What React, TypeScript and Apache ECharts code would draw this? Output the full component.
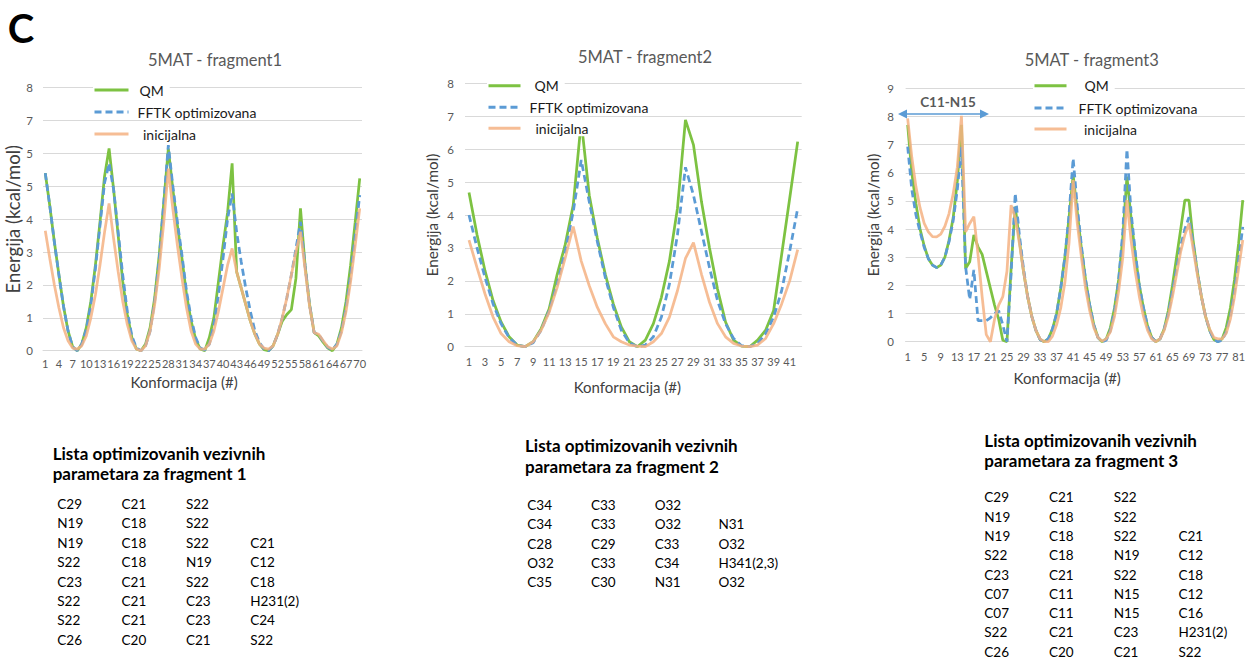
import React, { useEffect, useRef } from "react";
import * as echarts from "echarts";

const FONT = "Lato, 'Noto Sans', sans-serif";
const C_QM = "#7dc242";
const C_FFTK = "#5b9bd5";
const C_INIT = "#f4b183";

const seriesNames = ["QM", "FFTK optimizovana", "inicijalna"];
const chartTitles = ["5MAT - fragment1", "5MAT - fragment2", "5MAT - fragment3"];
const xAxisTitle = "Konformacija (#)";
const yAxisTitle = "Energija (kcal/mol)";
const panelLetter = "C";
const bondAnnotation = "C11-N15";

// fragment 1 (70 conformations)
const f1Categories = Array.from({ length: 70 }, (_, i) => String(i + 1));
const f1YTickLabels = ["0", "1", "2", "3", "4", "5", "5", "7", "8"];
const f1Qm = [
  5.4, 4.4, 3.3, 2.3, 1.35, 0.6, 0.12, 0.0, 0.2, 0.7,
  1.5, 2.6, 3.9, 5.3, 6.15, 4.9, 3.5, 2.1, 1.1, 0.4,
  0.05, 0.0, 0.2, 0.7, 1.6, 2.9, 4.5, 6.15, 4.9, 3.8,
  2.8, 1.7, 0.9, 0.35, 0.05, 0.0, 0.4, 1.0, 2.1, 3.2,
  4.2, 5.7, 2.4, 1.9, 1.4, 0.9, 0.5, 0.2, 0.03, 0.0,
  0.15, 0.5, 0.9, 1.1, 1.25, 2.2, 4.33, 2.6, 1.4, 0.55,
  0.45, 0.25, 0.08, 0.0, 0.2, 0.7, 1.5, 2.6, 3.9, 5.24,
];
const f1Fftk = [
  5.4, 4.4, 3.3, 2.3, 1.35, 0.6, 0.12, 0.0, 0.2, 0.65,
  1.4, 2.5, 3.8, 5.1, 5.7, 4.9, 3.6, 2.3, 1.2, 0.45,
  0.08, 0.0, 0.15, 0.6, 1.5, 2.8, 4.5, 6.25, 5.0, 3.9,
  2.9, 1.8, 1.0, 0.4, 0.08, 0.02, 0.2, 0.8, 1.7, 2.8,
  4.0, 4.78, 3.6, 2.7, 1.9, 1.2, 0.6, 0.25, 0.05, 0.0,
  0.15, 0.5, 1.0, 1.6, 2.3, 3.1, 3.92, 2.6, 1.4, 0.55,
  0.5, 0.28, 0.1, 0.02, 0.2, 0.6, 1.3, 2.3, 3.5, 4.73,
];
const f1Init = [
  3.65, 2.8, 2.0, 1.3, 0.7, 0.3, 0.08, 0.05, 0.15, 0.45,
  1.0, 1.7, 2.6, 3.6, 4.48, 3.4, 2.4, 1.5, 0.8, 0.3,
  0.05, 0.0, 0.15, 0.6, 1.4, 2.5, 3.9, 5.54, 4.3, 3.2,
  2.2, 1.3, 0.6, 0.2, 0.05, 0.05, 0.2, 0.6, 1.2, 1.9,
  2.6, 3.11, 2.4, 1.9, 1.4, 0.9, 0.5, 0.2, 0.08, 0.05,
  0.15, 0.5, 1.0, 1.6, 2.3, 3.0, 3.62, 2.5, 1.35, 0.55,
  0.5, 0.3, 0.12, 0.05, 0.15, 0.55, 1.2, 2.1, 3.2, 4.33,
];

// fragment 2 (42 conformations)
const f2Categories = Array.from({ length: 42 }, (_, i) => String(i + 1));
const f2Qm = [
  4.68, 3.4, 2.3, 1.4, 0.75, 0.3, 0.05, 0.0, 0.15, 0.55,
  1.15, 2.2, 3.1, 4.3, 6.85, 4.6, 3.3, 2.2, 1.3, 0.6,
  0.15, 0.0, 0.2, 0.7, 1.5, 2.6, 4.2, 6.89, 6.13, 4.4,
  3.0, 1.75, 0.75, 0.2, 0.02, 0.0, 0.2, 0.5, 1.1, 2.8,
  4.5, 6.23,
];
const f2Fftk = [
  4.0, 3.0, 2.1, 1.3, 0.7, 0.28, 0.05, 0.0, 0.12, 0.5,
  1.1, 1.9, 2.9, 4.1, 5.67, 4.4, 3.2, 2.1, 1.2, 0.5,
  0.12, 0.0, 0.05, 0.3, 0.9, 1.9, 3.4, 5.45, 4.6, 3.5,
  2.4, 1.4, 0.7, 0.25, 0.03, 0.0, 0.1, 0.4, 0.9, 1.7,
  2.9, 4.2,
];
const f2Init = [
  3.24, 2.4, 1.6, 0.9, 0.4, 0.15, 0.03, 0.0, 0.15, 0.5,
  1.05, 1.8, 2.7, 3.65, 2.6, 1.85, 1.2, 0.7, 0.3, 0.15,
  0.05, 0.02, 0.0, 0.15, 0.4, 0.9, 1.7, 2.68, 3.16, 2.2,
  1.35, 0.7, 0.3, 0.1, 0.02, 0.0, 0.05, 0.25, 0.7, 1.3,
  2.0, 2.95,
];

// fragment 3 (82 conformations)
const f3Categories = Array.from({ length: 82 }, (_, i) => String(i + 1));
const f3Qm = [
  7.7, 6.0, 4.9, 4.0, 3.4, 2.95, 2.72, 2.63, 2.72, 3.0,
  3.6, 4.4, 5.7, 7.7, 2.6, 2.84, 3.79, 3.37, 3.1, 2.5,
  1.9, 1.3, 0.8, 0.05, 0.0, 2.6, 4.8, 3.6, 2.5, 1.6,
  0.9, 0.4, 0.08, 0.0, 0.1, 0.45, 1.0, 1.9, 3.0, 4.4,
  5.92, 4.6, 3.3, 2.2, 1.3, 0.6, 0.15, 0.0, 0.1, 0.5,
  1.2, 2.2, 3.7, 5.86, 4.4, 3.1, 2.0, 1.2, 0.55, 0.15,
  0.0, 0.1, 0.45, 1.1, 2.0, 3.0, 4.0, 5.03, 5.03, 3.6,
  2.5, 1.6, 0.9, 0.4, 0.08, 0.0, 0.1, 0.5, 1.2, 2.2,
  3.5, 5.03,
];
const f3Fftk = [
  6.93, 5.4, 4.5, 3.9, 3.35, 2.95, 2.72, 2.63, 2.72, 3.0,
  3.55, 4.3, 5.4, 6.93, 2.66, 1.5, 2.55, 0.75, 0.75, 0.75,
  0.85, 1.0, 1.1, 0.6, 0.0, 2.4, 5.27, 3.8, 2.6, 1.6,
  0.9, 0.4, 0.08, 0.0, 0.1, 0.45, 1.0, 1.9, 3.0, 4.5,
  6.51, 4.8, 3.4, 2.2, 1.3, 0.6, 0.15, 0.0, 0.05, 0.4,
  1.1, 2.2, 3.9, 6.83, 4.6, 3.2, 2.0, 1.2, 0.55, 0.15,
  0.0, 0.1, 0.45, 1.0, 1.8, 2.6, 3.4, 4.0, 4.42, 3.5,
  2.5, 1.6, 0.9, 0.4, 0.08, 0.0, 0.05, 0.35, 0.9, 1.8,
  2.9, 4.08,
];
const f3Init = [
  7.93, 6.55, 5.5, 4.75, 4.2, 3.9, 3.73, 3.72, 3.82, 4.1,
  4.55, 5.25, 6.2, 8.02, 3.9, 4.2, 4.44, 3.1, 1.6, 0.25,
  0.0, 0.8, 1.3, 1.6, 2.5, 4.85, 4.4, 3.5, 2.5, 1.6,
  0.9, 0.4, 0.1, 0.0, 0.0, 0.2, 0.6, 1.2, 2.1, 3.5,
  5.74, 4.2, 3.0, 1.9, 1.1, 0.5, 0.15, 0.02, 0.1, 0.35,
  0.9, 1.8, 3.0, 5.03, 3.6, 2.5, 1.6, 0.9, 0.4, 0.1,
  0.0, 0.1, 0.4, 0.9, 1.6, 2.4, 3.2, 3.8, 4.2, 3.3,
  2.4, 1.6, 0.9, 0.45, 0.15, 0.1, 0.1, 0.3, 0.8, 1.6,
  2.6, 3.61,
];

// parameter tables
const table1Heading = ["Lista optimizovanih vezivnih", "parametara za fragment 1"];
const table1Rows = [
  ["C29", "C21", "S22", ""],
  ["N19", "C18", "S22", ""],
  ["N19", "C18", "S22", "C21"],
  ["S22", "C18", "N19", "C12"],
  ["C23", "C21", "S22", "C18"],
  ["S22", "C21", "C23", "H231(2)"],
  ["S22", "C21", "C23", "C24"],
  ["C26", "C20", "C21", "S22"],
];
const table2Heading = ["Lista optimizovanih vezivnih", "parametara za fragment 2"];
const table2Rows = [
  ["C34", "C33", "O32", ""],
  ["C34", "C33", "O32", "N31"],
  ["C28", "C29", "C33", "O32"],
  ["O32", "C33", "C34", "H341(2,3)"],
  ["C35", "C30", "N31", "O32"],
];
const table3Heading = ["Lista optimizovanih vezivnih", "parametara za fragment 3"];
const table3Rows = [
  ["C29", "C21", "S22", ""],
  ["N19", "C18", "S22", ""],
  ["N19", "C18", "S22", "C21"],
  ["S22", "C18", "N19", "C12"],
  ["C23", "C21", "S22", "C18"],
  ["C07", "C11", "N15", "C12"],
  ["C07", "C11", "N15", "C16"],
  ["S22", "C21", "C23", "H231(2)"],
  ["C26", "C20", "C21", "S22"],
];

const panels = [
  {
    cats: f1Categories, qm: f1Qm, fftk: f1Fftk, init: f1Init, yLabels: f1YTickLabels,
    grid: { left: 43, right: 886, top: 87.7, bottom: 308.3 }, yMax: 8, xInterval: 2,
    yNameGap: 21, yNameSize: 18.5, xNameGap: 24, xNamePad: 37, xLabelMargin: 7, yLabelMargin: 10,
    titleX: 215, titleTop: 51, legendLeft: 93, legendIconW: 34, legendRows: [91, 113, 135], legendGaps: [6, 4, 9.5],
  },
  {
    cats: f2Categories, qm: f2Qm, fftk: f2Fftk, init: f2Init, yLabels: null,
    grid: { left: 465, right: 446.3, top: 83.3, bottom: 312.3 }, yMax: 8, xInterval: 1,
    yNameGap: 26, yNameSize: 15.3, xNameGap: 33, xNamePad: 12, xLabelMargin: 9, yLabelMargin: 11,
    titleX: 645, titleTop: 48, legendLeft: 487, legendIconW: 32, legendRows: [86.7, 108.3, 129.3], legendGaps: [9, 4, 10],
  },
  {
    cats: f3Categories, qm: f3Qm, fftk: f3Fftk, init: f3Init, yLabels: null,
    grid: { left: 905.6, right: 1.1, top: 88.3, bottom: 317.3 }, yMax: 9, xInterval: 3,
    yNameGap: 25, yNameSize: 15.3, xNameGap: 29, xNamePad: 16, xLabelMargin: 9, yLabelMargin: 11.6,
    titleX: 1091.7, titleTop: 51, legendLeft: 1033, legendIconW: 32, legendRows: [86.7, 109, 130], legendGaps: [13, 7, 12.5],
  },
];

const DASH = [7, 4];

function buildOption() {
  const title: any[] = [];
  const grid: any[] = [];
  const xAxis: any[] = [];
  const yAxis: any[] = [];
  const series: any[] = [];
  const legend: any[] = [];
  const graphic: any[] = [];

  panels.forEach((p, i) => {
    title.push({
      text: chartTitles[i], left: p.titleX, top: p.titleTop, textAlign: "center", padding: 0,
      textStyle: { fontSize: 16.5, fontWeight: "normal", color: "#595959", fontFamily: FONT },
    });
    grid.push({ ...p.grid, containLabel: false });
    xAxis.push({
      type: "category", gridIndex: i, data: p.cats, boundaryGap: true,
      axisTick: { show: false },
      axisLine: { lineStyle: { color: "#d9d9d9" } },
      axisLabel: { interval: p.xInterval, fontSize: 11, color: "#595959", margin: p.xLabelMargin, fontFamily: FONT },
      name: xAxisTitle, nameLocation: "middle", nameGap: p.xNameGap,
      nameTextStyle: { fontSize: 15, color: "#404040", fontFamily: FONT, padding: [0, p.xNamePad, 0, 0] },
    });
    const labels = p.yLabels;
    yAxis.push({
      type: "value", gridIndex: i, min: 0, max: p.yMax, interval: 1,
      axisLine: { show: false }, axisTick: { show: false },
      splitLine: { lineStyle: { color: "#d9d9d9", width: 1 } },
      axisLabel: {
        fontSize: 11.5, color: "#595959", margin: p.yLabelMargin, fontFamily: FONT,
        formatter: labels ? (v: number) => labels[Math.round(v)] : undefined,
      },
      name: yAxisTitle, nameLocation: "middle", nameGap: p.yNameGap,
      nameTextStyle: { fontSize: p.yNameSize, color: "#404040", fontFamily: FONT },
    });
    series.push(
      {
        type: "line", name: seriesNames[0], xAxisIndex: i, yAxisIndex: i, data: p.qm,
        symbol: "none", lineStyle: { color: C_QM, width: 2.75 }, itemStyle: { color: C_QM },
      },
      {
        type: "line", name: seriesNames[1], xAxisIndex: i, yAxisIndex: i, data: p.fftk,
        symbol: "none", lineStyle: { color: C_FFTK, width: 2.75, type: DASH }, itemStyle: { color: C_FFTK },
      },
      {
        type: "line", name: seriesNames[2], xAxisIndex: i, yAxisIndex: i, data: p.init,
        symbol: "none", lineStyle: { color: C_INIT, width: 2.75, opacity: 0.85 }, itemStyle: { color: C_INIT },
      }
    );
    seriesNames.forEach((name, j) => {
      const gap = p.legendGaps[j];
      legend.push({
        left: p.legendLeft, top: p.legendRows[j] - 9, orient: "vertical", data: [name],
        itemWidth: p.legendIconW, itemHeight: 14, padding: [1, 6, 1, 0], backgroundColor: "#fff",
        selectedMode: false,
        lineStyle: { width: 3, type: j === 1 ? DASH : "solid" },
        itemStyle: { opacity: 0, borderWidth: 0 },
        formatter: (n: string) => `{g| }{t|${n}}`,
        textStyle: {
          fontSize: 14, color: "#1a1a1a", fontFamily: FONT,
          rich: {
            g: { width: gap, fontSize: 14 },
            t: { fontSize: 14, color: "#1a1a1a", fontFamily: FONT },
          },
        },
      });
    });
  });

  // panel letter
  graphic.push({
    type: "text", x: 21, y: 28,
    style: { text: panelLetter, fontSize: 40, fontWeight: "bold", fontFamily: FONT, fill: "#000", align: "center", verticalAlign: "middle" },
  });

  // C11-N15 annotation (double arrow)
  const ay = 114;
  graphic.push(
    { type: "line", shape: { x1: 905, y1: ay, x2: 982, y2: ay }, style: { stroke: C_FFTK, lineWidth: 1.5 }, z: 10 },
    { type: "polygon", shape: { points: [[898, ay], [907, ay - 4.5], [907, ay + 4.5]] }, style: { fill: C_FFTK }, z: 10 },
    { type: "polygon", shape: { points: [[989, ay], [980, ay - 4.5], [980, ay + 4.5]] }, style: { fill: C_FFTK }, z: 10 },
    {
      type: "text", x: 948, y: 101.7, z: 10,
      style: { text: bondAnnotation, fontSize: 13.5, fontWeight: "bold", fontFamily: FONT, fill: "#595959", align: "center", verticalAlign: "middle" },
    }
  );

  // tables
  const tables = [
    { heading: table1Heading, rows: table1Rows, hx: 52.7, hy: [453.3, 473.3], rx: 57.3, colStep: 64.3, ry0: 504, rowStep: 19.4 },
    { heading: table2Heading, rows: table2Rows, hx: 525, hy: [445, 466.7], rx: 527.3, colStep: 63.7, ry0: 505, rowStep: 19.3 },
    { heading: table3Heading, rows: table3Rows, hx: 984.3, hy: [440, 460], rx: 984.3, colStep: 64.7, ry0: 497.3, rowStep: 19.3 },
  ];
  tables.forEach((t) => {
    t.heading.forEach((line, k) => {
      graphic.push({
        type: "text", x: t.hx, y: t.hy[k],
        style: { text: line, fontSize: 17, fontWeight: "bold", fontFamily: FONT, fill: "#000", align: "left", verticalAlign: "middle" },
      });
    });
    t.rows.forEach((row, r) => {
      row.forEach((cell, c) => {
        if (!cell) return;
        graphic.push({
          type: "text", x: t.rx + c * t.colStep, y: t.ry0 + r * t.rowStep,
          style: { text: cell, fontSize: 13.5, fontFamily: FONT, fill: "#000", align: "left", verticalAlign: "middle" },
        });
      });
    });
  });

  return {
    animation: false,
    backgroundColor: "#fff",
    textStyle: { fontFamily: FONT },
    title, grid, xAxis, yAxis, series, legend, graphic,
  };
}

export default function App() {
  const ref = useRef<HTMLDivElement>(null);
  useEffect(() => {
    if (!ref.current) return;
    const chart = echarts.init(ref.current, null, { renderer: "svg" });
    chart.setOption(buildOption() as any);
    return () => chart.dispose();
  }, []);
  return (
    <div
      ref={ref}
      style={{ position: "fixed", left: 0, top: 0, width: 1248, height: 659, background: "#fff" }}
    />
  );
}
